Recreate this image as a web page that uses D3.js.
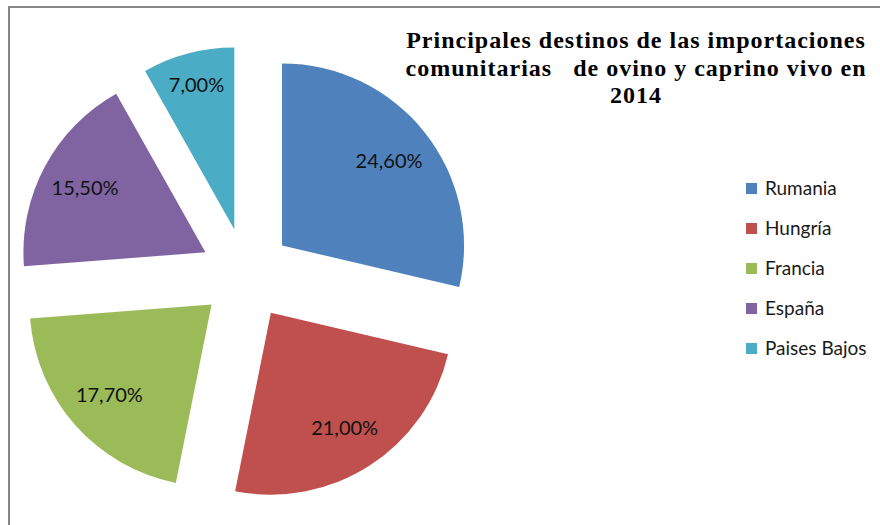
<!DOCTYPE html>
<html>
<head>
<meta charset="utf-8">
<script src="https://cdn.jsdelivr.net/npm/d3@7"></script>
<style>
  body { margin: 0; background: #fff; }
  svg { display: block; }
</style>
</head>
<body>
<div id="chart"></div>
<script>
// Data
const countries = ["Rumania", "Hungría", "Francia", "España", "Paises Bajos"];
const shares = [24.6, 21.0, 17.7, 15.5, 7.0];
const labels = ["24,60%", "21,00%", "17,70%", "15,50%", "7,00%"];
const titleLines = ["Principales destinos de las importaciones", "comunitarias   de ovino y caprino vivo en", "2014"];

const width = 880;
const height = 525;
const radius = 182;
const explode = 46;
const cx = 246, cy = 274;

const colors = d3.scaleOrdinal()
    .domain(countries)
    .range(["#4F81BD", "#C0504D", "#9BBB59", "#8064A2", "#4BACC6"]);

const svg = d3.select("#chart")
    .append("svg")
    .attr("width", width)
    .attr("height", height);

// chart frame (only top and left edges visible)
svg.append("rect")
    .attr("x", 9)
    .attr("y", 7)
    .attr("width", width + 20)
    .attr("height", height + 20)
    .attr("fill", "none")
    .attr("stroke", "#868686")
    .attr("stroke-width", 2);

const pie = d3.pie().sort(null).value(d => d.value);
const arcs = pie(countries.map((c, i) => ({ name: c, value: shares[i], label: labels[i] })));

const arc = d3.arc().innerRadius(0).outerRadius(radius);

const g = svg.append("g").attr("transform", `translate(${cx},${cy})`);

const slices = g.selectAll("g.slice")
    .data(arcs)
    .enter()
    .append("g")
    .attr("class", "slice")
    .attr("transform", d => {
        const a = (d.startAngle + d.endAngle) / 2;
        return `translate(${Math.sin(a) * explode},${-Math.cos(a) * explode})`;
    });

slices.append("path")
    .attr("d", arc)
    .attr("fill", d => colors(d.data.name));

// small slices get their label pushed a bit further out
const labelR = d => (d.endAngle - d.startAngle < 0.6 ? 0.82 : 0.75) * radius;

slices.append("text")
    .attr("x", d => Math.sin((d.startAngle + d.endAngle) / 2) * labelR(d))
    .attr("y", d => -Math.cos((d.startAngle + d.endAngle) / 2) * labelR(d))
    .attr("dy", "0.35em")
    .attr("text-anchor", "middle")
    .style("font-family", "Lato, 'Open Sans', sans-serif")
    .style("font-size", "20px")
    .attr("fill", "#111")
    .text(d => d.data.label);

// Title
svg.append("g")
    .selectAll("text")
    .data(titleLines)
    .enter()
    .append("text")
    .attr("x", 636)
    .attr("y", (d, i) => 48 + i * 27.5)
    .attr("text-anchor", "middle")
    .style("font-family", "'Liberation Serif', serif")
    .style("font-weight", "bold")
    .style("font-size", "24px")
    .style("letter-spacing", "1px")
    .style("white-space", "pre")
    .attr("fill", "#000")
    .text(d => d);

// Legend
const legend = svg.append("g")
    .selectAll("g")
    .data(countries)
    .enter()
    .append("g")
    .attr("transform", (d, i) => `translate(746, ${183 + i * 40})`);

legend.append("rect")
    .attr("width", 11)
    .attr("height", 11)
    .attr("fill", d => colors(d));

legend.append("text")
    .attr("x", 19)
    .attr("y", 12)
    .style("font-family", "Lato, 'Open Sans', sans-serif")
    .style("font-size", "19px")
    .attr("fill", "#1a1a1a")
    .text(d => d);
</script>
</body>
</html>
